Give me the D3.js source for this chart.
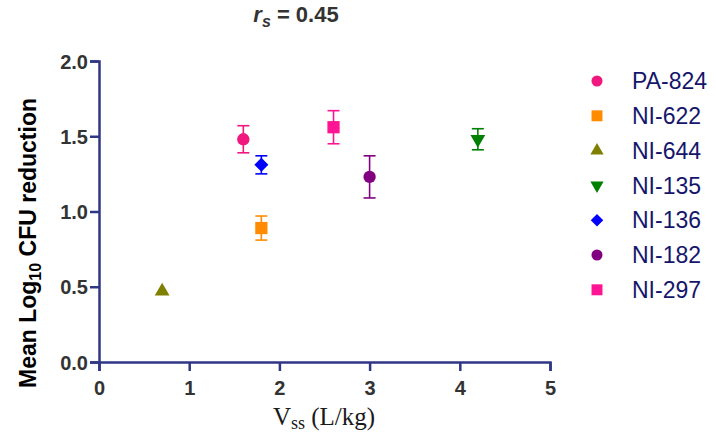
<!DOCTYPE html>
<html>
<head>
  <meta charset="UTF-8">
  <title>Mean Log10 CFU reduction vs Vss</title>
  <script src="https://d3js.org/d3.v7.min.js"></script>
  <style>
    body { margin: 0; background: #fff; }
    svg text { font-family: Arial, "Liberation Sans", sans-serif; }
  </style>
</head>
<body>
  <div id="chart"></div>
  <script>
    // data
    const compounds = ["PA-824", "NI-622", "NI-644", "NI-135", "NI-136", "NI-182", "NI-297"];
    const vss = [1.6, 1.8, 0.7, 4.2, 1.8, 3.0, 2.6];
    const meanReduction = [1.48, 0.89, 0.47, 1.48, 1.31, 1.23, 1.56];
    const errLow = [1.39, 0.81, null, 1.41, 1.25, 1.09, 1.45];
    const errHigh = [1.57, 0.97, null, 1.55, 1.37, 1.37, 1.67];
    const colors = ["#F0187E", "#FF8C00", "#808000", "#008000", "#0000FF", "#800080", "#FF1493"];
    const shapes = ["circle", "square", "triangle", "triangleDown", "diamond", "circle", "square"];
    const xTicks = [0, 1, 2, 3, 4, 5];
    const yTicks = [0.0, 0.5, 1.0, 1.5, 2.0];

    const width = 716, height = 437;
    const margin = { top: 61, right: 166, bottom: 75, left: 99 };

    const svg = d3.select("#chart")
      .append("svg")
      .attr("width", width)
      .attr("height", height);

    const x = d3.scaleLinear().domain([0, 5]).range([margin.left, width - margin.right]);
    const y = d3.scaleLinear().domain([0, 2]).range([height - margin.bottom, margin.top]);

    const axisColor = "#2F3785";

    function symbolPath(shape, size) {
      let type = d3.symbolCircle;
      if (shape === "square" || shape === "diamond") type = d3.symbolSquare;
      if (shape === "triangle" || shape === "triangleDown") type = d3.symbolTriangle;
      return d3.symbol().type(type).size(size)();
    }
    function symbolRotate(shape) {
      if (shape === "triangleDown") return " rotate(180)";
      if (shape === "diamond") return " rotate(45)";
      return "";
    }
    const sizes = { circle: 120, square: 150, triangle: 95, triangleDown: 95, diamond: 98 };

    // x axis
    const xAxis = svg.append("g")
      .attr("transform", "translate(0," + y(0) + ")")
      .call(d3.axisBottom(x).tickValues(xTicks).tickFormat(d3.format("d")).tickSize(9).tickPadding(10));
    // y axis
    const yAxis = svg.append("g")
      .attr("transform", "translate(" + x(0) + ",0)")
      .call(d3.axisLeft(y).tickValues(yTicks).tickFormat(d3.format(".1f")).tickSize(9).tickPadding(2));

    [xAxis, yAxis].forEach(function(g) {
      g.select(".domain").attr("stroke", axisColor).attr("stroke-width", 2.5);
      g.selectAll(".tick line").attr("stroke", axisColor).attr("stroke-width", 2.5);
      g.selectAll(".tick text")
        .attr("fill", "#333")
        .style("font-size", "20px")
        .style("font-weight", "bold");
    });
    yAxis.selectAll(".tick text").attr("dy", "0.36em");

    // title
    const title = svg.append("text")
      .attr("x", 296)
      .attr("y", 22)
      .attr("text-anchor", "middle")
      .attr("fill", "#333")
      .style("font-size", "22px")
      .style("font-weight", "bold");
    title.append("tspan").style("font-style", "italic").text("r");
    title.append("tspan").attr("dy", 5).style("font-style", "italic").style("font-size", "16px").text("s");
    title.append("tspan").attr("dy", -5).text(" = 0.45");

    // y label
    const yLabel = svg.append("text")
      .attr("transform", "translate(36,243) rotate(-90)")
      .attr("text-anchor", "middle")
      .attr("fill", "#000")
      .style("font-size", "23px")
      .style("font-weight", "bold");
    yLabel.append("tspan").text("Mean Log");
    yLabel.append("tspan").attr("dy", 5).style("font-size", "16px").text("10");
    yLabel.append("tspan").attr("dy", -5).text(" CFU reduction");

    // x label
    const xLabel = svg.append("text")
      .attr("x", 324)
      .attr("y", 425)
      .attr("text-anchor", "middle")
      .attr("fill", "#1a1a1a")
      .style("font-family", "'Liberation Serif', 'Times New Roman', serif")
      .style("font-size", "25px");
    xLabel.append("tspan").text("V");
    xLabel.append("tspan").attr("dy", 4).style("font-size", "18px").text("ss");
    xLabel.append("tspan").attr("dy", -4).text(" (L/kg)");

    const data = compounds.map(function(c, i) {
      return { name: c, x: vss[i], y: meanReduction[i], lo: errLow[i], hi: errHigh[i], color: colors[i], shape: shapes[i] };
    });

    // error bars
    const eb = svg.selectAll(".err")
      .data(data.filter(d => d.lo !== null))
      .enter()
      .append("g")
      .attr("class", "err")
      .attr("stroke", d => d.color)
      .attr("stroke-width", 1.6);
    eb.append("line")
      .attr("x1", d => x(d.x)).attr("x2", d => x(d.x))
      .attr("y1", d => y(d.lo)).attr("y2", d => y(d.hi));
    eb.append("line")
      .attr("x1", d => x(d.x) - 6).attr("x2", d => x(d.x) + 6)
      .attr("y1", d => y(d.lo)).attr("y2", d => y(d.lo));
    eb.append("line")
      .attr("x1", d => x(d.x) - 6).attr("x2", d => x(d.x) + 6)
      .attr("y1", d => y(d.hi)).attr("y2", d => y(d.hi));

    // points
    svg.selectAll(".pt")
      .data(data)
      .enter()
      .append("path")
      .attr("class", "pt")
      .attr("d", d => symbolPath(d.shape, sizes[d.shape]))
      .attr("transform", d => "translate(" + x(d.x) + "," + y(d.y) + ")" + symbolRotate(d.shape))
      .attr("fill", d => d.color);

    // legend
    const legend = svg.selectAll(".leg")
      .data(data)
      .enter()
      .append("g")
      .attr("class", "leg")
      .attr("transform", (d, i) => "translate(597," + (81 + i * 34.8) + ")");
    legend.append("path")
      .attr("d", d => symbolPath(d.shape, sizes[d.shape] * 0.8))
      .attr("transform", d => symbolRotate(d.shape) || null)
      .attr("fill", d => d.color);
    legend.append("text")
      .attr("x", 35)
      .attr("dy", "0.36em")
      .attr("fill", "#15166B")
      .style("font-size", "23px")
      .text(d => d.name);
  </script>
</body>
</html>
